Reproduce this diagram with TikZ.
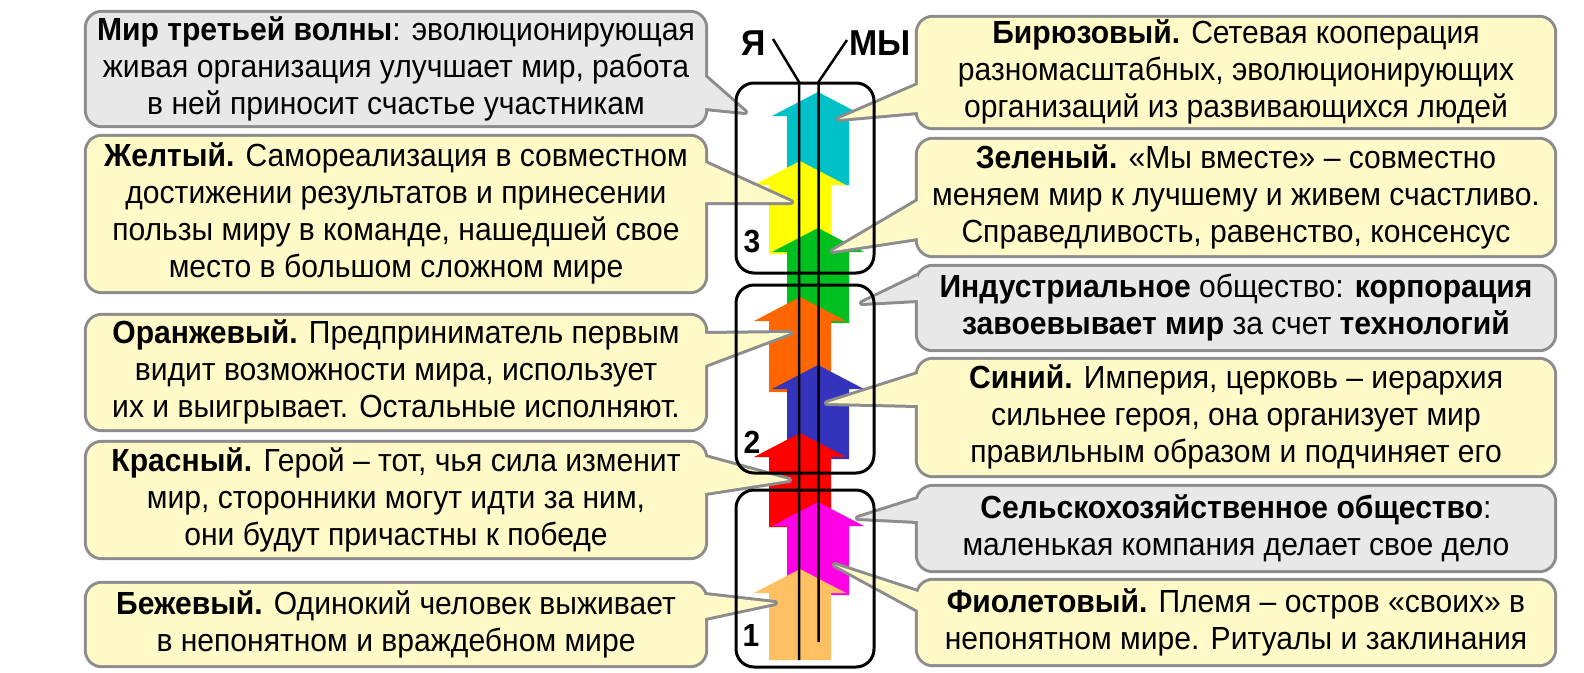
\documentclass[tikz,border=0pt]{standalone}
\usepackage{fontspec}
\setmainfont[FakeStretch=0.94]{Liberation Sans}
\usetikzlibrary{positioning}
\definecolor{edgegray}{RGB}{140,140,140}
\definecolor{noteyellow}{RGB}{255,250,200}
\definecolor{notegray}{RGB}{232,232,232}
\definecolor{turq}{RGB}{0,192,200}
\definecolor{yel}{RGB}{255,255,0}
\definecolor{grn}{RGB}{0,192,32}
\definecolor{orng}{RGB}{255,102,0}
\definecolor{blu}{RGB}{51,51,187}
\definecolor{rd}{RGB}{255,0,0}
\definecolor{mag}{RGB}{255,0,230}
\definecolor{bge}{RGB}{255,192,100}
\pgfdeclarelayer{arrowlayer}
\pgfdeclarelayer{bubblelayer}
\pgfsetlayers{arrowlayer,bubblelayer,main}
\begin{document}
\begin{tikzpicture}[x=1pt,y=-1pt,
				txt/.style={align=center,inner sep=0pt,font=\fontsize{32}{37}\selectfont,
					execute at begin node={\rule{0pt}{36pt}},execute at end node={\rule[-7pt]{0pt}{7pt}}},
				leftbox/.style={txt,minimum width=618pt,minimum height=#1},
				rightbox/.style={txt,minimum width=636pt,minimum height=#1},
				frame/.style={draw,line width=3pt,rounded corners=18pt,minimum width=138pt,inner sep=0pt},
				num/.style={inner sep=0pt,font=\fontsize{32}{32}\selectfont\bfseries},
				tag/.style={inner sep=0pt,font=\fontsize{36}{36}\selectfont\bfseries},
				vline/.style={line width=2.5pt}]
				\useasboundingbox (0,0) rectangle (1584,672);

				\node (worldbox)  [leftbox=112pt]  at (396,69)    {\textbf{Мир третьей волны}: эволюционирующая\\живая организация улучшает мир, работа\\в ней приносит счастье участникам};
				\node (yellowbox) [leftbox=154pt]  at (396,214)   {\textbf{Желтый.} Самореализация в совместном\\достижении результатов и принесении\\пользы миру в команде, нашедшей свое\\место в большом сложном мире};
				\node (orangebox) [leftbox=113pt]  at (396,372.5) {\textbf{Оранжевый.} Предприниматель первым\\видит возможности мира, использует\\их и выигрывает. Остальные исполняют.};
				\node (redbox)    [leftbox=114pt]  at (396,500)   {\textbf{Красный.} Герой – тот, чья сила изменит\\мир, сторонники могут идти за ним,\\они будут причастны к победе};
				\node (beigebox)  [leftbox=81pt]   at (396,624.5) {\textbf{Бежевый.} Одинокий человек выживает\\в непонятном и враждебном мире};
				\node (turqbox)   [rightbox=109pt] at (1236,72.5) {\textbf{Бирюзовый.} Сетевая кооперация\\разномасштабных, эволюционирующих\\организаций из развивающихся людей};
				\node (greenbox)  [rightbox=115pt] at (1236,197.5) {\textbf{Зеленый.} «Мы вместе» – совместно\\меняем мир к лучшему и живем счастливо.\\Справедливость, равенство, консенсус};
				\node (industbox) [rightbox=82pt]  at (1236,308)  {\textbf{Индустриальное} общество: \textbf{корпорация}\\\textbf{завоевывает мир} за счет \textbf{технологий}};
				\node (bluebox)   [rightbox=115pt] at (1236,417.5) {\textbf{Синий.} Империя, церковь – иерархия\\сильнее героя, она организует мир\\правильным образом и подчиняет его};
				\node (agribox)   [rightbox=83pt]  at (1236,528.5) {\textbf{Сельскохозяйственное общество}:\\маленькая компания делает свое дело};
				\node (violetbox) [rightbox=83pt]  at (1236,622.5) {\textbf{Фиолетовый.} Племя – остров «своих» в\\непонятном мире. Ритуалы и заклинания};

				\node (stage3) [frame,minimum height=190pt] at (805,178)   {};
				\node (stage2) [frame,minimum height=188pt] at (805,379)   {};
				\node (stage1) [frame,minimum height=177pt] at (805,578.5) {};
				\node (n3) [num,above right=21pt and 9pt of stage3.south west] {3};
				\node (n2) [num,above right=21pt and 9pt of stage2.south west] {2};
				\node (n1) [num,above right=22pt and 8pt of stage1.south west] {1};

				\node (ilabel)  [tag] at (754,43) {Я};
				\node (welabel) [tag] at (880,43) {МЫ};
				\coordinate (itop) at (773,39);
				\coordinate (ibend) at (799,82);
				\coordinate (ibot) at (799,660);
				\coordinate (wetop) at (847,40);
				\coordinate (webend) at (818.5,82);
				\coordinate (webot) at (818.5,642);
				\draw[vline] (itop) -- (ibend) -- (ibot);
				\draw[vline] (wetop) -- (webend) -- (webot);

				\begin{pgfonlayer}{arrowlayer}
				\foreach \c/\x/\ya/\yb in {turq/818/92/185,yel/800/161/254,grn/818/228/323,orng/800/297/392,
						blu/818/365/459,rd/800/433/527,mag/818/502/595,bge/800/569/660}
					\fill[\c] (\x,\ya) -- (\x+46,\ya+24) -- (\x+31,\ya+24) -- (\x+31,\yb)
						-- (\x-31,\yb) -- (\x-31,\ya+24) -- (\x-46,\ya+24) -- cycle;
				\end{pgfonlayer}

				\begin{pgfonlayer}{bubblelayer}
				\foreach \n/\s/\ya/\yb/\t/\f in {worldbox/east/77/108/{745,112}/notegray,
						yellowbox/east/163/202/{791,202}/noteyellow,orangebox/east/334/365/{790,333}/noteyellow,
						redbox/east/457/493/{789,480}/noteyellow,beigebox/east/595/618/{775,603}/noteyellow,
						turqbox/west/85/112/{839,119}/noteyellow,greenbox/west/201/238/{833,251}/noteyellow,
						industbox/west/276/300/{862,303}/notegray,bluebox/west/374/405/{827,403}/noteyellow,
						agribox/west/499/521/{858,518}/notegray,violetbox/west/592/610/{835,565}/noteyellow}
				{
					\path[draw=edgegray,line width=6pt,line join=round] [rounded corners=15pt] (\n.north west) rectangle (\n.south east)
						[sharp corners] (\n.\s |- 0,\ya) -- (\t) -- (\n.\s |- 0,\yb) -- cycle;
					\path[fill=\f] [rounded corners=15pt] (\n.north west) rectangle (\n.south east)
						[sharp corners] (\n.\s |- 0,\ya) -- (\t) -- (\n.\s |- 0,\yb) -- cycle;
				}
				\end{pgfonlayer}
			\end{tikzpicture}
\end{document}
